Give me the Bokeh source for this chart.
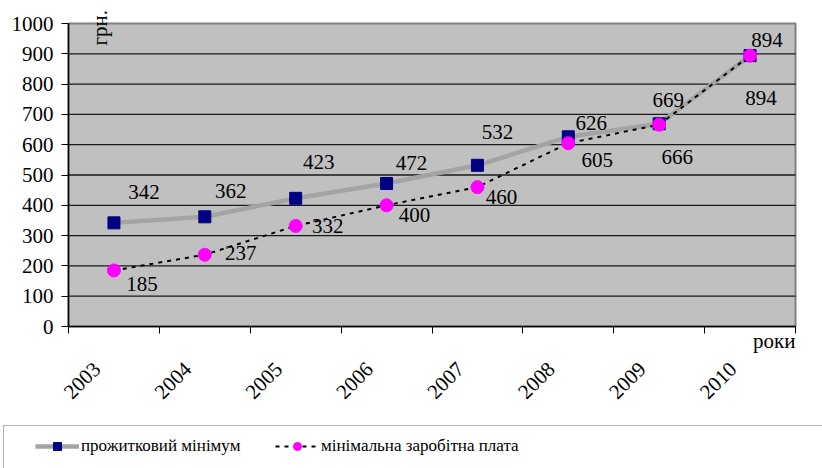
import math
from bokeh.plotting import figure
from bokeh.models import (FixedTicker, Label, Legend, LegendItem, BoxAnnotation,
                          ColumnDataSource, Range1d, LinearAxis)
from bokeh.core.properties import value
from bokeh.embed import file_html
from bokeh.resources import INLINE

# ---------------- data ----------------
YEARS = ["2003", "2004", "2005", "2006", "2007", "2008", "2009", "2010"]
SUBSISTENCE = [342, 362, 423, 472, 532, 626, 669, 894]     # прожитковий мінімум
MIN_WAGE = [185, 237, 332, 400, 460, 605, 666, 894]        # мінімальна заробітна плата
Y_TICKS = [0, 100, 200, 300, 400, 500, 600, 700, 800, 900, 1000]
SERIES_NAMES = ["прожитковий мінімум", "мінімальна заробітна плата"]
Y_UNIT = "грн."
X_UNIT = "роки"

# label nudges in screen pixels (style only)
SUB_DX = [30, 26, 23, 25, 20, 23, 9, 17]
SUB_DY = [-31, -26, -36, -20, -33, -14, -24, -16]
WAGE_DX = [28, 36, 32, 28, 24, 29, 18, 11]
WAGE_DY = [14, -2, 0, 10, 10, 17, 32, 42]

FONT = "Liberation Serif"

# ---------------- layout ----------------
W, H = 822, 468
PL, PR, PT, PB = 68, 795, 23, 326          # plot-area box in pixels
n = len(YEARS)
ux = (PR - PL) / n
uy = (PB - PT) / (Y_TICKS[-1] - Y_TICKS[0])

xs = [i + 0.5 for i in range(n)]
bounds = [i for i in range(n + 1)]
grid_y = Y_TICKS[1:-1]

src1 = ColumnDataSource(dict(x=xs, y=SUBSISTENCE, t=[str(v) for v in SUBSISTENCE],
                             dx=SUB_DX, dy=SUB_DY))
src2 = ColumnDataSource(dict(x=xs, y=MIN_WAGE, t=[str(v) for v in MIN_WAGE],
                             dx=WAGE_DX, dy=WAGE_DY))

p = figure(width=W, height=H, output_backend="svg", toolbar_location=None,
           x_range=Range1d(-PL / ux, n + (W - PR) / ux),
           y_range=Range1d(Y_TICKS[0] - (H - PB) / uy, Y_TICKS[-1] + PT / uy),
           x_axis_type=None, y_axis_type=None, min_border=0)
p.background_fill_color = "white"
p.border_fill_color = "white"
p.outline_line_color = None

# plot area
p.quad(left=[0], right=[n], bottom=[Y_TICKS[0]], top=[Y_TICKS[-1]],
       fill_color="#C0C0C0", line_color="#808080", line_width=2)
# horizontal grid lines
p.segment(x0=[0] * len(grid_y), x1=[n] * len(grid_y), y0=grid_y, y1=grid_y,
          line_color="#1a1a1a", line_width=1.3)

# y axis
ya = LinearAxis(fixed_location=0, bounds=(Y_TICKS[0], Y_TICKS[-1]),
                ticker=FixedTicker(ticks=Y_TICKS))
ya.axis_line_color = "black"
ya.axis_line_width = 1.5
ya.major_tick_line_color = "black"
ya.major_tick_out = 7
ya.major_tick_in = 0
ya.minor_tick_line_color = None
ya.major_label_standoff = 8
ya.major_label_text_font = FONT
ya.major_label_text_font_size = "21px"
ya.major_label_text_color = "black"
p.add_layout(ya, "left")

# x axis: tick marks at category bounds, labels drawn rotated below
xa = LinearAxis(fixed_location=Y_TICKS[0], bounds=(0, n),
                ticker=FixedTicker(ticks=bounds))
xa.axis_line_color = "black"
xa.axis_line_width = 1.5
xa.major_tick_line_color = "black"
xa.major_tick_out = 7
xa.major_tick_in = 0
xa.minor_tick_line_color = None
xa.major_label_text_font_size = "0px"
xa.major_label_text_alpha = 0
p.add_layout(xa, "below")

p.text(x=xs, y=[Y_TICKS[0]] * n, text=YEARS, angle=math.pi / 4,
       x_offset=-17, y_offset=39, text_align="right", text_baseline="middle",
       text_font=value(FONT), text_font_size="21px", text_color="black")

# series 1: прожитковий мінімум
l1 = p.line("x", "y", source=src1, line_color="#a4a4a4", line_width=4.5)
m1 = p.scatter("x", "y", source=src1, marker="square", size=12,
               fill_color="#000080", line_color="#000080")
# series 2: мінімальна заробітна плата
l2 = p.line("x", "y", source=src2, line_color="black", line_width=2, line_dash="4 5")
m2 = p.scatter("x", "y", source=src2, marker="circle", size=13,
               fill_color="#FF00FF", line_color="#FF00FF")

# data labels
for s in (src1, src2):
    p.text("x", "y", text="t", source=s, x_offset="dx", y_offset="dy",
           text_align="center", text_baseline="middle",
           text_font=value(FONT), text_font_size="21px", text_color="black")

# axis unit labels
p.add_layout(Label(x=0.35, y=Y_TICKS[-1] - (45 - PT) / uy, text=Y_UNIT,
                   angle=math.pi / 2, text_align="left", text_baseline="middle",
                   text_font=FONT, text_font_size="21px", text_color="black"))
p.add_layout(Label(x=n, y=Y_TICKS[0], text=X_UNIT, text_align="right",
                   text_baseline="alphabetic", y_offset=-14,
                   text_font=FONT, text_font_size="21px", text_color="black"))

# legend frame
p.add_layout(BoxAnnotation(left=3, right=W + 50, top=H - 425, bottom=-30,
                           left_units="screen", right_units="screen",
                           top_units="screen", bottom_units="screen",
                           fill_alpha=0, line_color="black", line_width=1))

legend = Legend(items=[LegendItem(label=SERIES_NAMES[0], renderers=[l1, m1]),
                       LegendItem(label=SERIES_NAMES[1], renderers=[l2, m2])],
                location=(35, 12), orientation="horizontal",
                padding=0, margin=0, spacing=18, label_standoff=2,
                glyph_width=44, glyph_height=20, label_width=176,
                border_line_color=None, background_fill_alpha=0,
                label_text_font=FONT, label_text_font_size="17px",
                label_text_color="black")
p.add_layout(legend)

open("out.html", "w").write(file_html(p, INLINE))
